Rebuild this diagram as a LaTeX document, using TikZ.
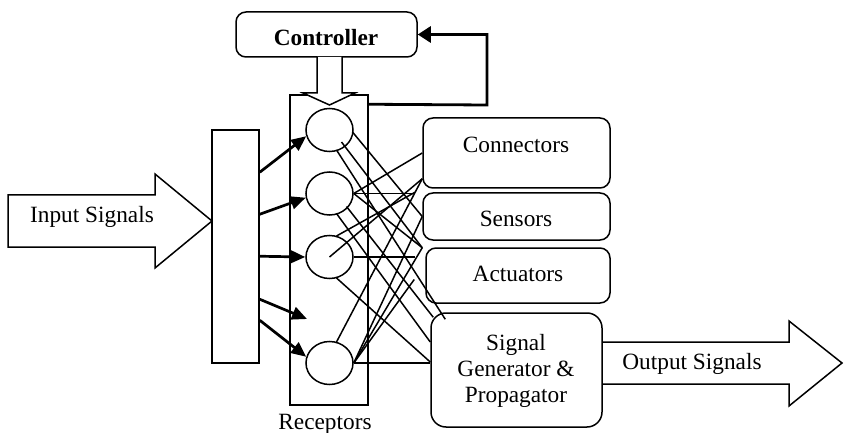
\documentclass[tikz,border=0pt]{standalone}
\usepackage{fontspec}
\setmainfont{Liberation Serif}
\usetikzlibrary{arrows.meta,calc,shapes.geometric}
\begin{document}
\begin{tikzpicture}[x=1pt,y=-1pt,
  outline/.style={draw,line width=1.5pt,inner sep=0pt},
  rbox/.style={draw,line width=1.5pt,rounded corners=10pt,inner sep=0pt},
  txt/.style={font=\fontsize{23.3}{26.2}\selectfont,inner sep=0pt,align=center},
  recept/.style={draw,ellipse,line width=1.5pt,minimum width=47pt,minimum height=43pt,inner sep=0pt},
  inarrow/.style={line width=2.7pt,-{Triangle[length=15pt,width=13pt]}},
  net/.style={line width=1.5pt},
  fat/.style={draw,line width=1.5pt,line join=miter}]
\useasboundingbox (0,0) rectangle (844,433);

% boxes
\node[rbox,minimum width=181pt,minimum height=45pt] (ctrl) at (326.5,34.5) {};
\node[txt] (ctrltxt) at (326,38) {\bfseries Controller};
\node[outline,minimum width=78pt,minimum height=310pt] (recep) at (329,250) {};
\node[txt] (receptxt) at (325,424) {Receptors};
\node[outline,minimum width=47pt,minimum height=233pt] (inrect) at (235.5,246.5) {};

\node[recept] (c1) at (329.5,130) {};
\node[recept] (c2) at (329.5,193.5) {};
\node[recept] (c3) at (329.5,257) {};
\node[recept] (c4) at (329.5,363) {};

\node[rbox,minimum width=187pt,minimum height=70pt] (conn) at (516.5,153) {};
\node[txt] (conntxt) at (516,145) {Connectors};
\node[rbox,minimum width=187pt,minimum height=47pt] (sens) at (516.5,216.5) {};
\node[txt] (senstxt) at (516,219) {Sensors};
\node[rbox,minimum width=184pt,minimum height=55pt] (act) at (518,275.5) {};
\node[txt] (acttxt) at (518,274) {Actuators};
\node[rbox,rounded corners=15pt,minimum width=171pt,minimum height=114pt] (sg) at (516.5,370) {};
\node[txt] (sgtxt) at (516,371) {Signal\\Generator \&\\Propagator};

% input / output arrows
\draw[fat] (8,195) -- (155,195) -- (155,174) -- (212,221) -- (155,268) -- (155,247) -- (8,247) -- cycle;
\node[txt] (intxt) at (92,217) {Input Signals};
\draw[fat] (sg.east |- 0,342) -- (789,342) -- (789,321) -- (842,363) -- (789,406) -- (789,384) -- (sg.east |- 0,384);
\node[txt] (outtxt) at (692,364) {Output Signals};

% controller to receptors hollow arrow
\draw[fat,fill=white] (317,57) -- (317,93) -- (303,93) -- (329.5,105) -- (355,93) -- (342,93) -- (342,57);

% feedback
\coordinate (fb) at (487,105);
\draw[line width=2.8pt,-{Triangle[length=13pt,width=16pt]}] ($(recep.north east)+(0,10)$) -- (fb) |- (ctrl.east);

% input arrows
\coordinate (free4) at (307,319);
\draw[inarrow] ($(inrect.north east)+(0,43)$) -- (c1.195);
\draw[inarrow] ($(inrect.north east)+(0,85)$) -- (c2.190);
\draw[inarrow] ($(inrect.north east)+(0,127)$) -- (c3.west);
\draw[inarrow] ($(inrect.north east)+(0,170)$) -- (free4);
\draw[inarrow] ($(inrect.north east)+(0,191)$) -- (c4.165);

% network
\coordinate (sz) at (415,0);
\coordinate (conn2) at ($(conn.south west)+(0,-10)$);
\coordinate (sens0) at (sens.north west -| sz);
\coordinate (gap) at ($(sens.south west)+(0,7)$);
\coordinate (actp) at ($(act.west)+(-11,4)$);
\coordinate (sg1) at ($(sg.north west)+(3,5)$);
\coordinate (sg2) at ($(sg.north west)+(15,7)$);
\coordinate (sg3) at ($(sg.west)+(0,-28)$);
\coordinate (sg4) at ($(sg.west)+(0,-8)$);

\draw[net] ($(c1)+(23,2)$) -- (sens.west);
\draw[net] ($(c1)+(12,12)$) -- (gap);
\draw[net] ($(c1)+(7,20)$) -- (sg2);
\draw[net] (c2.east) -- (conn.west);
\draw[net] (c2.east) -- (c2.east -| sz);
\draw[net] (c2.east) -- (gap);
\draw[net] ($(c2)+(17,13)$) -- (sg1);
\draw[net] ($(c2)+(7,20)$) -- (sg3);
\draw[net] (c3.center) -- (conn2);
\draw[net] ($(c3)+(7,-21)$) -- (sens0);
\draw[net] (c3.east) -- (c3.east -| sz);
\draw[net] ($(c3)+(7,21)$) -- (sg4);
\draw[net] ($(c4)+(7,-21)$) -- (conn2);
\draw[net] (c4.east) -- (sens.west);
\draw[net] (c4.east) -- (gap);
\draw[net] (c4.east) -- (actp);
\draw[net] (c4.east) -- (c4.east -| sg.west);
\end{tikzpicture}
\end{document}
